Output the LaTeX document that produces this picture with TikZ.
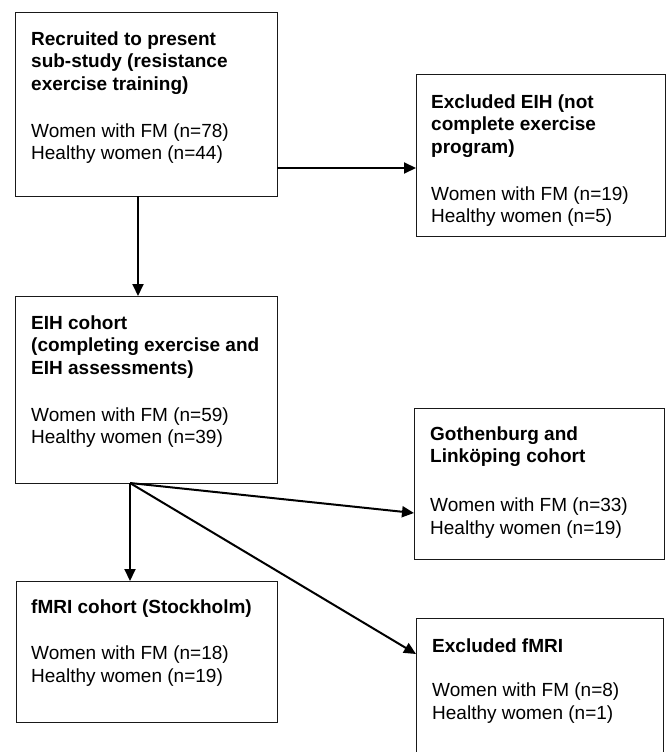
\documentclass[tikz,border=0pt]{standalone}
\usepackage{fontspec}
\setmainfont{Liberation Sans}
\usetikzlibrary{arrows.meta}
\tikzset{
  boxnode/.style={draw=black!90, line width=1.4pt, rectangle, inner sep=0pt, anchor=north west},
  txt/.style={anchor=north west, inner sep=0pt, align=left, font=\fontsize{19pt}{22.6pt}\selectfont},
  arr/.style={draw=black, line width=2pt, -{Triangle[length=12pt,width=11pt]}}
}
\begin{document}
\begin{tikzpicture}[x=1pt,y=-1pt]
\useasboundingbox (0,0) rectangle (668,752);
\clip (0,0) rectangle (668,752);
% boxes
\node[boxnode, minimum width=262pt, minimum height=184pt] (b1) at (15,12) {};
\node[boxnode, minimum width=249pt, minimum height=162pt] (b2) at (416,74) {};
\node[boxnode, minimum width=262pt, minimum height=187pt] (b3) at (15,296) {};
\node[boxnode, minimum width=250pt, minimum height=151pt] (b4) at (414,408) {};
\node[boxnode, minimum width=261pt, minimum height=141pt] (b5) at (16,581) {};
\node[boxnode, minimum width=247pt, minimum height=150pt] (b6) at (416,618) {};
% texts
\node[txt] (t1) at (31,31.3) {\textbf{Recruited to present}\\\textbf{sub-study (resistance}\\\textbf{exercise training)}\\[24pt]Women with FM (n=78)\\Healthy women (n=44)};
\node[txt] (t2) at (431,94.3) {\textbf{Excluded EIH (not}\\\textbf{complete exercise}\\\textbf{program)}\\[24pt]Women with FM (n=19)\\Healthy women (n=5)};
\node[txt] (t3) at (31,315.3) {\textbf{EIH cohort}\\\textbf{(completing exercise and}\\\textbf{EIH assessments)}\\[24pt]Women with FM (n=59)\\Healthy women (n=39)};
\node[txt] (t4) at (430,426.3) {\textbf{Gothenburg and}\\\textbf{Linköping cohort}\\[26pt]Women with FM (n=33)\\Healthy women (n=19)};
\node[txt] (t5) at (31,599.3) {\textbf{fMRI cohort (Stockholm)}\\[24pt]Women with FM (n=18)\\Healthy women (n=19)};
\node[txt] (t6) at (432,638.3) {\textbf{Excluded fMRI}\\[22pt]Women with FM (n=8)\\Healthy women (n=1)};
% connector points
\coordinate (p1) at (277,168);
\coordinate (p2) at (138,196);
\coordinate (br) at (130,483);
\coordinate (e4) at (414,513);
\coordinate (e6) at (416,654);
% connectors
\draw[arr] (p1) -- (p1 -| b2.west);
\draw[arr] (p2) -- (p2 |- b3.north);
\draw[arr] (br) -- (br |- b5.north);
\draw[arr] (br) -- (e4);
\draw[arr] (br) -- (e6);
\end{tikzpicture}
\end{document}
